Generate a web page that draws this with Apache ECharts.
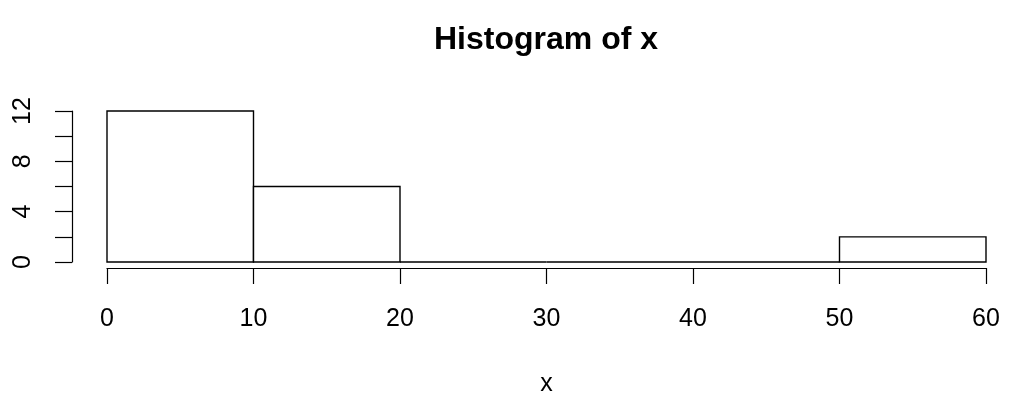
<!DOCTYPE html>
<html>
<head>
<meta charset="utf-8">
<script src="https://cdn.jsdelivr.net/npm/echarts@6/dist/echarts.min.js"></script>
<style>html,body{margin:0;padding:0;background:#fff;}#c{width:1024px;height:419px;}</style>
</head>
<body>
<div id="c"></div>
<script>
var binStarts = [0, 10, 20, 30, 40, 50];
var binEnds = [10, 20, 30, 40, 50, 60];
var counts = [12, 6, 0, 0, 0, 2];
var xTicks = [0, 10, 20, 30, 40, 50, 60];
var yTickLabels = [0, 4, 8, 12];

var FONT = '"Liberation Sans", Arial, Helvetica, sans-serif';
var data = binStarts.map(function (s, i) { return [s, binEnds[i], counts[i]]; });

var chart = echarts.init(document.getElementById('c'), null, {renderer: 'canvas'});
chart.setOption({
  animation: false,
  backgroundColor: '#fff',
  graphic: [{
    type: 'text',
    left: 546 - 112,
    top: 24,
    style: {text: 'Histogram of x', font: 'bold 32px ' + FONT, fill: '#000'}
  }],
  grid: {left: 107, right: 38, top: 111, bottom: 157, containLabel: false},
  xAxis: {
    type: 'value',
    min: 0, max: 60, interval: 10,
    offset: 6,
    name: 'x',
    nameLocation: 'middle',
    nameGap: 104,
    nameTextStyle: {fontFamily: FONT, fontSize: 25, color: '#000'},
    axisLine: {show: true, onZero: false, lineStyle: {color: '#000', width: 1.2}},
    axisTick: {show: true, length: 16, lineStyle: {color: '#000', width: 1.2}},
    axisLabel: {margin: 39, fontFamily: FONT, fontSize: 25, color: '#000'},
    splitLine: {show: false}
  },
  yAxis: {
    type: 'value',
    min: 0, max: 12, interval: 2,
    offset: 35,
    axisLine: {show: true, onZero: false, lineStyle: {color: '#000', width: 1.2}},
    axisTick: {show: true, length: 17, lineStyle: {color: '#000', width: 1.2}},
    axisLabel: {
      rotate: 90, margin: 36, fontFamily: FONT, fontSize: 25, color: '#000',
      formatter: function (v) { return yTickLabels.indexOf(v) >= 0 ? String(v) : ''; }
    },
    splitLine: {show: false}
  },
  series: [{
    type: 'custom',
    data: data,
    encode: {x: [0, 1], y: 2},
    renderItem: function (params, api) {
      var p0 = api.coord([api.value(0), api.value(2)]);
      var p1 = api.coord([api.value(1), 0]);
      return {
        type: 'rect',
        shape: {x: p0[0], y: p0[1], width: p1[0] - p0[0], height: p1[1] - p0[1]},
        style: {fill: '#fff', stroke: '#000', lineWidth: 1.4}
      };
    }
  }]
});
</script>
</body>
</html>
